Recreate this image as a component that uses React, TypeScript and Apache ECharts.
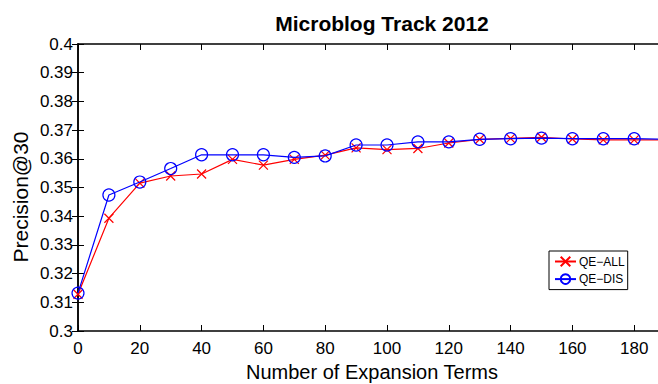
import React, { useEffect, useRef } from "react";
import * as echarts from "echarts";

const expansionTerms = [0, 10, 20, 30, 40, 50, 60, 70, 80, 90, 100, 110, 120, 130, 140, 150, 160, 170, 180, 190];
const qeAll = [0.3128, 0.3393, 0.3515, 0.354, 0.3547, 0.3598, 0.3578, 0.3598, 0.3613, 0.3638, 0.3632, 0.3636, 0.3655, 0.3668, 0.3671, 0.3675, 0.3669, 0.3666, 0.3666, 0.3666];
const qeDis = [0.3132, 0.3474, 0.3519, 0.3566, 0.3614, 0.3614, 0.3614, 0.3605, 0.361, 0.3648, 0.3648, 0.3659, 0.3659, 0.3668, 0.367, 0.3672, 0.367, 0.367, 0.367, 0.3668];
const yTicks = [0.3, 0.31, 0.32, 0.33, 0.34, 0.35, 0.36, 0.37, 0.38, 0.39, 0.4];
const xName = "Number of Expansion Terms";
const yName = "Precision@30";

const FONT = "Liberation Sans, Arial, Helvetica, sans-serif";
const CROSS = "path://M0,0L10,10M10,0L0,10";

export default function App() {
  const ref = useRef<HTMLDivElement>(null);
  useEffect(() => {
    if (!ref.current) return;
    const chart = echarts.init(ref.current, null, { renderer: "svg" });
    const axisLine = { show: true, lineStyle: { color: "#000", width: 1.5 } };
    const tickInside = { show: true, inside: true, length: 6, lineStyle: { color: "#000", width: 1 } };
    chart.setOption({
      animation: false,
      backgroundColor: "#fff",
      title: {
        text: "Microblog Track 2012",
        left: 377,
        top: 8,
        textAlign: "center",
        textStyle: { fontFamily: FONT, fontSize: 21, fontWeight: "bold", color: "#000" },
      },
      grid: { left: 78, top: 44, right: -38, bottom: 53, containLabel: false, outerBoundsMode: "none" },
      graphic: [
        {
          type: "text",
          x: 372,
          y: 372,
          style: {
            text: xName,
            font: `20px ${FONT}`,
            fill: "#000",
            align: "center",
            verticalAlign: "middle",
          },
        },
        {
          type: "text",
          x: 20,
          y: 197,
          rotation: Math.PI / 2,
          style: {
            text: yName,
            font: `21px ${FONT}`,
            fill: "#000",
            align: "center",
            verticalAlign: "middle",
          },
        },
      ],
      legend: {
        left: 549,
        top: 251,
        orient: "vertical",
        itemWidth: 21,
        itemHeight: 12,
        itemGap: 5.6,
        padding: [4.5, 3, 4.5, 5],
        borderColor: "#000",
        borderWidth: 1,
        backgroundColor: "#fff",
        textStyle: { fontFamily: FONT, fontSize: 12, color: "#000", padding: [0, 0, 0, -2] },
        data: ["QE−ALL", "QE−DIS"],
      },
      xAxis: [
        {
          type: "value",
          min: 0,
          max: 200,
          interval: 20,
          axisLine,
          axisTick: tickInside,
          axisLabel: { fontFamily: FONT, fontSize: 17, color: "#000", margin: 9, showMaxLabel: false },
          splitLine: { show: false },
        },
        {
          type: "value",
          position: "top",
          min: 0,
          max: 200,
          interval: 20,
          axisLine,
          axisTick: tickInside,
          axisLabel: { show: false },
          splitLine: { show: false },
        },
      ],
      yAxis: [
        {
          type: "value",
          min: 0.3,
          max: 0.4,
          interval: 0.01,
          axisLine,
          axisTick: tickInside,
          axisLabel: {
            fontFamily: FONT,
            fontSize: 17,
            color: "#000",
            margin: 5,
            formatter: (v: number) => {
              const t = yTicks.find((x) => Math.abs(x - v) < 1e-9);
              return t === undefined ? "" : String(+t.toFixed(2));
            },
          },
          splitLine: { show: false },
        },
        {
          type: "value",
          position: "right",
          min: 0.3,
          max: 0.4,
          interval: 0.01,
          axisLine,
          axisTick: tickInside,
          axisLabel: { show: false },
          splitLine: { show: false },
        },
      ],
      series: [
        {
          name: "QE−ALL",
          type: "line",
          data: expansionTerms.map((x, i) => [x, qeAll[i]]),
          symbol: CROSS,
          symbolSize: 9,
          showAllSymbol: true,
          lineStyle: { color: "#ff0000", width: 1.2 },
          itemStyle: { color: "rgba(0,0,0,0)", borderColor: "#ff0000", borderWidth: 1.2 },
          z: 2,
        },
        {
          name: "QE−DIS",
          type: "line",
          data: expansionTerms.map((x, i) => [x, qeDis[i]]),
          symbol: "circle",
          symbolSize: 12,
          showAllSymbol: true,
          lineStyle: { color: "#0000ff", width: 1.2 },
          itemStyle: { color: "rgba(0,0,0,0)", borderColor: "#0000ff", borderWidth: 1.2 },
          z: 3,
        },
      ],
    });
    return () => chart.dispose();
  }, []);
  return <div ref={ref} style={{ width: 658, height: 384, position: "absolute", left: 0, top: 0 }} />;
}
